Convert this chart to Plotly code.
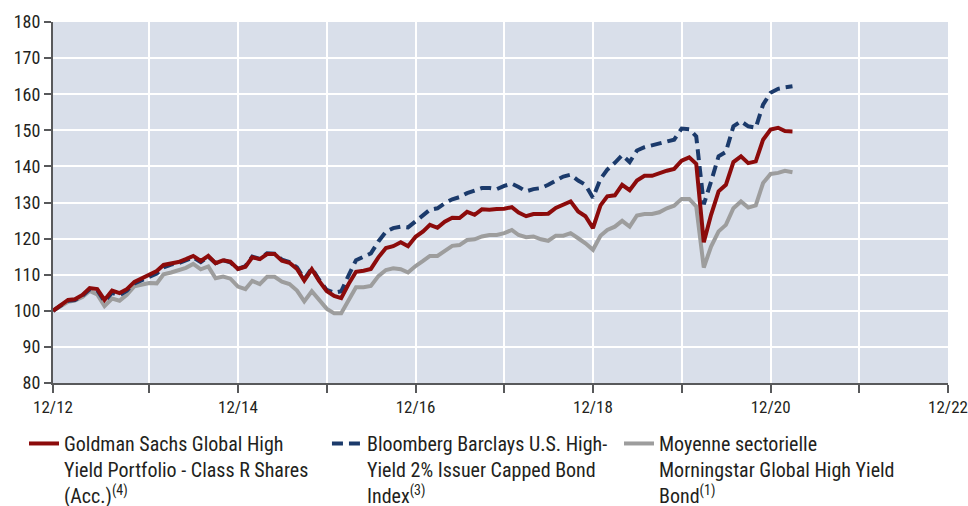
import pandas as pd
import plotly.graph_objects as go

# Month-end observation dates (first point = start of period, labelled 12/12)
dates = pd.date_range("2012-11-30", periods=101, freq="ME")

gs_fund = [100, 101.5, 103, 103.2, 104.4, 106.3, 106, 103, 105.6, 104.9,
           106, 108, 109, 110, 111, 112.7, 113.2, 113.5, 114.3, 115.2,
           113.8, 115.2, 113.2, 114, 113.6, 111.6, 112.2, 114.8, 114.3, 115.7,
           115.7, 113.9, 113.3, 111.6, 108.4, 111.5, 108.3, 105.5, 104.1, 103.5,
           107.5, 110.8, 111.1, 111.6, 114.8, 117.4, 117.9, 119, 117.9, 120.5,
           122, 123.8, 123, 124.7, 125.8, 125.7, 127.4, 126.6, 128.1, 128,
           128.2, 128.3, 128.7, 127.2, 126.2, 126.8, 126.8, 126.9, 128.5, 129.4,
           130.3, 127.5, 126.2, 122.9, 129.2, 131.7, 132, 134.9, 133.4, 136.1,
           137.4, 137.4, 138.2, 138.8, 139.3, 141.6, 142.5, 140.7, 119, 126.6,
           133.1, 134.9, 141.2, 142.8, 140.9, 141.4, 147.4, 150.2, 150.7, 149.8,
           149.7]

bbg_index = [100, 101.5, 102.8, 103, 104.2, 106, 105.7, 102.6, 105, 104.3,
             105.6, 107.6, 108.4, 109.2, 110.3, 112, 112.8, 113.2, 114, 114.8,
             113.5, 115, 113.2, 114, 113.4, 111.6, 112.4, 115, 114.4, 115.9,
             115.8, 114.2, 113.5, 112, 108.8, 111.8, 108.6, 105.8, 105, 105.4,
             109.9, 114, 115, 115.9, 119.2, 121.9, 122.9, 123.3, 123.1, 124.9,
             126.5, 128, 128.4, 129.8, 130.9, 131.5, 132.6, 133.3, 134, 134,
             133.7, 134.6, 135.2, 134.3, 133.1, 133.7, 134, 134.9, 136.1, 137.2,
             137.7, 136.1, 134.9, 131.3, 136.5, 139.1, 141, 143.1, 141.2, 144.4,
             145.3, 145.8, 146.5, 146.9, 147.4, 150.5, 150.3, 148.3, 129.5, 135.8,
             142.8, 144, 151.1, 152.5, 151.1, 150.7, 157.1, 160.4, 161.5, 161.9,
             162.2]

peer_avg = [100, 101.2, 102.5, 102.8, 103.8, 105.5, 104.5, 101.3, 103.4, 102.8,
            104.4, 106.8, 107.3, 107.7, 107.6, 110.1, 110.6, 111.2, 111.9, 113,
            111.5, 112.3, 109, 109.5, 108.9, 106.7, 106, 108.3, 107.4, 109.4,
            109.4, 108.1, 107.4, 105.6, 102.6, 105.4, 102.9, 100.6, 99.3, 99.3,
            103, 106.5, 106.5, 106.9, 109.6, 111.3, 111.8, 111.5, 110.6, 112.4,
            113.8, 115.2, 115.2, 116.7, 118, 118.2, 119.6, 119.8, 120.6, 121,
            121, 121.5, 122.4, 121, 120.4, 120.6, 119.8, 119.4, 120.8, 120.8,
            121.5, 120.1, 118.7, 116.9, 120.8, 122.4, 123.3, 124.9, 123.3, 126.4,
            126.8, 126.8, 127.3, 128.4, 129.1, 131, 131, 128.9, 112, 117.8,
            122, 123.8, 128.4, 130.3, 128.6, 129.2, 135.4, 137.9, 138.2, 138.8,
            138.4]

tick_dates = ["2012-11-30", "2013-12-31", "2014-12-31", "2015-12-31", "2016-12-31",
              "2017-12-31", "2018-12-31", "2019-12-31", "2020-12-31", "2021-12-31",
              "2022-12-31"]
tick_labels = ["12/12", "", "12/14", "", "12/16", "", "12/18", "", "12/20", "", "12/22"]
y_ticks = [80, 90, 100, 110, 120, 130, 140, 150, 160, 170, 180]

names = [
    "Goldman Sachs Global High<br>Yield Portfolio - Class R Shares<br>(Acc.)<sup>(4)</sup>",
    "Bloomberg Barclays U.S. High-<br>Yield 2% Issuer Capped Bond<br>Index<sup>(3)</sup>",
    "Moyenne sectorielle<br>Morningstar Global High Yield<br>Bond<sup>(1)</sup>",
]

FONT = "Liberation Sans Narrow, Roboto Condensed, DejaVu Sans Condensed, Arial Narrow, sans-serif"
RED = "#8c0b0b"
NAVY = "#1b3a6b"
GRAY = "#9d9d9d"

fig = go.Figure()
fig.add_trace(go.Scatter(x=dates, y=peer_avg, mode="lines", name=names[2],
                         line=dict(color=GRAY, width=4), legend="legend3"))
fig.add_trace(go.Scatter(x=dates, y=bbg_index, mode="lines", name=names[1],
                         line=dict(color=NAVY, width=4, dash="11px,6px"), legend="legend2"))
fig.add_trace(go.Scatter(x=dates, y=gs_fund, mode="lines", name=names[0],
                         line=dict(color=RED, width=4), legend="legend"))

leg_common = dict(orientation="v", xanchor="left", yanchor="top", y=-0.1135,
                  font=dict(family=FONT, size=20, color="#231f20"),
                  bgcolor="rgba(0,0,0,0)", valign="top", itemwidth=30,
                  tracegroupgap=0)

fig.update_layout(
    width=968, height=506,
    margin=dict(l=53, r=20, t=22, b=123, autoexpand=False),
    paper_bgcolor="white",
    plot_bgcolor="#d9dfea",
    font=dict(family=FONT, size=18, color="#231f20"),
    showlegend=True,
    legend=dict(x=-0.0324, **leg_common),
    legend2=dict(x=0.3061, **leg_common),
    legend3=dict(x=0.6324, **leg_common),
    xaxis=dict(
        type="date",
        range=["2012-11-30", "2022-12-31"],
        tickmode="array", tickvals=tick_dates, ticktext=tick_labels,
        showgrid=True, gridcolor="white", gridwidth=2,
        showline=True, linecolor="#58595b", linewidth=2,
        ticks="outside", ticklen=8, tickwidth=1.5, tickcolor="#58595b",
        tickfont=dict(family=FONT, size=17, color="#231f20"),
        ticklabeloverflow="allow",
        zeroline=False,
    ),
    yaxis=dict(
        range=[80, 180],
        tickmode="array", tickvals=y_ticks,
        showgrid=True, gridcolor="white", gridwidth=2,
        showline=True, linecolor="#58595b", linewidth=2,
        ticks="outside", ticklen=7, tickwidth=1.5, tickcolor="#58595b",
        tickfont=dict(family=FONT, size=18, color="#231f20"),
        zeroline=False,
    ),
)

# Remove the default 8px page margin so the 968x506 figure fills the window exactly.
fig.write_html(
    "out.html",
    config={"displayModeBar": False},
    post_script="document.body.style.margin='0';"
                "document.documentElement.style.overflow='hidden';",
)
